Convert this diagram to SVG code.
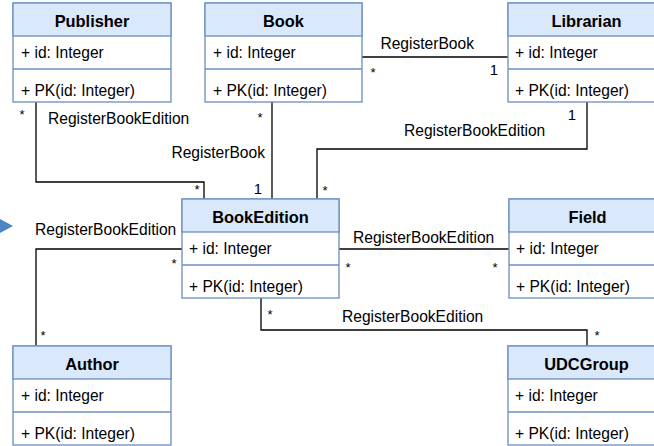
<svg xmlns="http://www.w3.org/2000/svg" width="654" height="446" viewBox="0 0 654 446">
<style>
.box{fill:#ffffff;stroke:#6c8ebf;stroke-width:1.3}
.hdr{fill:#dae8fc;stroke:#6c8ebf;stroke-width:1.3}
.div{stroke:#6c8ebf;stroke-width:1.3}
.ttl{font-family:"Liberation Sans",Arial,sans-serif;font-size:16.4px;font-weight:bold;fill:#000;text-anchor:middle}
.att{font-family:"Liberation Sans",Arial,sans-serif;font-size:15.6px;fill:#000}
.lbl{font-family:"Liberation Sans",Arial,sans-serif;font-size:15.6px;fill:#000}
.mul{font-family:"Liberation Sans",Arial,sans-serif;font-size:13px;fill:#000;text-anchor:middle}
.one{font-family:"Liberation Sans",Arial,sans-serif;font-size:15px;fill:#000;text-anchor:middle}
.con{fill:none;stroke:#000;stroke-width:1.3}
</style>
<polygon points="0,219 13,226 0,233" fill="#4a86c8"/>
<g id="connectors">
<path class="con" d="M36,102 V182 H204 V199"/>
<path class="con" d="M272,102 V199"/>
<path class="con" d="M362,57 H508"/>
<path class="con" d="M587,102 V149 H317 V199"/>
<path class="con" d="M339,249 H509"/>
<path class="con" d="M182,249 H36 V346"/>
<path class="con" d="M261,298 V330 H587 V346"/>
<text class="mul" x="22" y="119">*</text>
<text class="lbl" x="48" y="124">RegisterBookEdition</text>
<text class="mul" x="197" y="194">*</text>
<text class="mul" x="260" y="122">*</text>
<text class="lbl" x="265" y="157.5" text-anchor="end">RegisterBook</text>
<text class="one" x="258" y="194">1</text>
<text class="lbl" x="474" y="48.5" text-anchor="end">RegisterBook</text>
<text class="mul" x="373" y="77">*</text>
<text class="one" x="494" y="74.5">1</text>
<text class="one" x="572" y="120">1</text>
<text class="lbl" x="404" y="135.5">RegisterBookEdition</text>
<text class="mul" x="325" y="195">*</text>
<text class="lbl" x="353" y="242.5">RegisterBookEdition</text>
<text class="mul" x="348" y="272">*</text>
<text class="mul" x="495" y="272">*</text>
<text class="lbl" x="35" y="234.5">RegisterBookEdition</text>
<text class="mul" x="174" y="268">*</text>
<text class="mul" x="43" y="340">*</text>
<text class="mul" x="270" y="319">*</text>
<text class="lbl" x="342" y="321.5">RegisterBookEdition</text>
<text class="mul" x="597" y="340">*</text>
</g>
<g id="publisher">
<rect class="box" x="13" y="3" width="158" height="99"/>
<rect class="hdr" x="13" y="3" width="158" height="33"/>
<line class="div" x1="13" y1="69" x2="171" y2="69"/>
<text class="ttl" x="92" y="26.5">Publisher</text>
<text class="att" x="21" y="57.5">+ id: Integer</text>
<text class="att" x="21" y="95.5">+ PK(id: Integer)</text>
</g>
<g id="book">
<rect class="box" x="205" y="3" width="157" height="99"/>
<rect class="hdr" x="205" y="3" width="157" height="33"/>
<line class="div" x1="205" y1="69" x2="362" y2="69"/>
<text class="ttl" x="283.5" y="26.5">Book</text>
<text class="att" x="213" y="57.5">+ id: Integer</text>
<text class="att" x="213" y="95.5">+ PK(id: Integer)</text>
</g>
<g id="librarian">
<rect class="box" x="508" y="3" width="157" height="99"/>
<rect class="hdr" x="508" y="3" width="157" height="33"/>
<line class="div" x1="508" y1="69" x2="665" y2="69"/>
<text class="ttl" x="586.5" y="26.5">Librarian</text>
<text class="att" x="515" y="57.5">+ id: Integer</text>
<text class="att" x="515" y="95.5">+ PK(id: Integer)</text>
</g>
<g id="bookedition">
<rect class="box" x="182" y="199" width="157" height="99"/>
<rect class="hdr" x="182" y="199" width="157" height="33"/>
<line class="div" x1="182" y1="265" x2="339" y2="265"/>
<text class="ttl" x="260.5" y="222.5">BookEdition</text>
<text class="att" x="189" y="253.5">+ id: Integer</text>
<text class="att" x="189" y="291.5">+ PK(id: Integer)</text>
</g>
<g id="field">
<rect class="box" x="509" y="199" width="157" height="99"/>
<rect class="hdr" x="509" y="199" width="157" height="33"/>
<line class="div" x1="509" y1="265" x2="666" y2="265"/>
<text class="ttl" x="587.5" y="222.5">Field</text>
<text class="att" x="516" y="253.5">+ id: Integer</text>
<text class="att" x="516" y="291.5">+ PK(id: Integer)</text>
</g>
<g id="author">
<rect class="box" x="13" y="346" width="158" height="99"/>
<rect class="hdr" x="13" y="346" width="158" height="33"/>
<line class="div" x1="13" y1="412" x2="171" y2="412"/>
<text class="ttl" x="92" y="369.5">Author</text>
<text class="att" x="21" y="400.5">+ id: Integer</text>
<text class="att" x="21" y="438.5">+ PK(id: Integer)</text>
</g>
<g id="udcgroup">
<rect class="box" x="508" y="346" width="157" height="99"/>
<rect class="hdr" x="508" y="346" width="157" height="33"/>
<line class="div" x1="508" y1="412" x2="665" y2="412"/>
<text class="ttl" x="586.5" y="369.5">UDCGroup</text>
<text class="att" x="515" y="400.5">+ id: Integer</text>
<text class="att" x="515" y="438.5">+ PK(id: Integer)</text>
</g>
</svg>
